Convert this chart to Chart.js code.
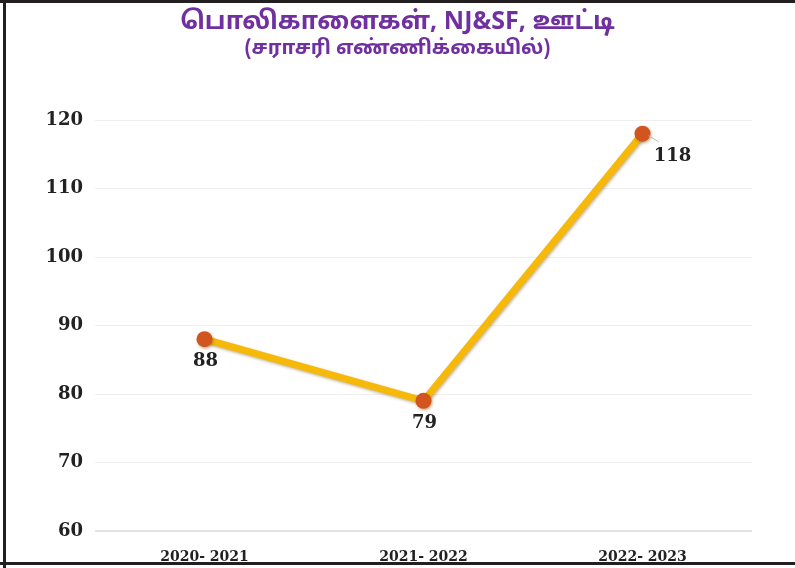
<!DOCTYPE html>
<html>
<head>
<meta charset="utf-8">
<script src="https://cdn.jsdelivr.net/npm/chart.js@4/dist/chart.umd.min.js"></script>
<style>
  html, body { margin: 0; padding: 0; background: #fff; }
  #wrap { position: relative; width: 795px; height: 568px; overflow: hidden; background: #fff; }
  canvas { position: absolute; left: 0; top: 0; }
  .b { position: absolute; background: #231f20; }
  .t { position: absolute; left: 0; width: 795px; text-align: center; color: #7030a0; font-weight: bold;
       font-family: "Noto Sans Tamil", "Lohit Tamil", "Latha", "Noto Sans", sans-serif; white-space: nowrap; }
</style>
</head>
<body>
<div id="wrap">
  <canvas id="c" width="795" height="568"></canvas>
  <div class="b" style="left:0;top:0;width:795px;height:3px;"></div>
  <div class="b" style="left:3px;top:0;width:3px;height:568px;"></div>
  <div class="b" style="left:0;top:562px;width:795px;height:3px;"></div>
  <div class="t" id="t1" style="top:7px;font-size:25px;line-height:32px;"></div>
  <div class="t" id="t2" style="top:36px;font-size:20px;line-height:26px;"></div>
</div>
<script>
const titleLine1 = "பொலிகாளைகள், NJ&SF, ஊட்டி";
const titleLine2 = "(சராசரி எண்ணிக்கையில்)";
const categories = ["2020- 2021", "2021- 2022", "2022- 2023"];
const values = [88, 79, 118];
const yTicks = [60, 70, 80, 90, 100, 110, 120];

document.getElementById('t1').textContent = titleLine1;
document.getElementById('t2').textContent = titleLine2;

const shadowPlugin = {
  id: 'lineShadow',
  beforeDatasetDraw(chart) {
    const ctx = chart.ctx;
    ctx.save();
    ctx.shadowColor = 'rgba(120,80,0,0.45)';
    ctx.shadowBlur = 3;
    ctx.shadowOffsetX = 1;
    ctx.shadowOffsetY = 1.5;
  },
  afterDatasetDraw(chart) {
    chart.ctx.restore();
  }
};

const labelPlugin = {
  id: 'valueLabels',
  afterDatasetsDraw(chart) {
    const ctx = chart.ctx;
    const meta = chart.getDatasetMeta(0);
    ctx.save();
    ctx.font = 'bold 18px "DejaVu Serif", serif';
    ctx.fillStyle = '#222';
    ctx.textAlign = 'center';
    ctx.textBaseline = 'middle';
    meta.data.forEach((pt, i) => {
      const v = values[i];
      if (i === values.length - 1) {
        ctx.strokeStyle = '#bbb';
        ctx.lineWidth = 1;
        ctx.beginPath();
        ctx.moveTo(pt.x + 6, pt.y + 2);
        ctx.lineTo(pt.x + 16, pt.y + 8);
        ctx.stroke();
        ctx.fillText(String(v), pt.x + 30, pt.y + 23);
      } else {
        ctx.fillText(String(v), pt.x + 1, pt.y + 22);
      }
    });
    ctx.restore();
  }
};

new Chart(document.getElementById('c'), {
  type: 'line',
  data: {
    labels: categories,
    datasets: [{
      data: values,
      borderColor: '#f6b90a',
      borderWidth: 7,
      pointRadius: 8,
      pointHoverRadius: 8,
      pointBackgroundColor: '#d2551f',
      pointBorderColor: '#d2551f',
      pointBorderWidth: 0,
      tension: 0,
      fill: false
    }]
  },
  options: {
    responsive: false,
    animation: false,
    devicePixelRatio: 1,
    layout: { padding: { left: 0, right: 43, top: 120, bottom: 0 } },
    plugins: { legend: { display: false }, tooltip: { enabled: false }, title: { display: false } },
    scales: {
      x: {
        offset: true,
        grid: { display: false },
        border: { display: false },
        ticks: { color: '#222', font: { family: '"DejaVu Serif", serif', weight: 'bold', size: 14 }, padding: 10, maxRotation: 0 },
        afterFit(scale) { scale.height = 37; }
      },
      y: {
        min: 60,
        max: 120,
        afterBuildTicks(scale) { scale.ticks = yTicks.map(v => ({ value: v })); },
        grid: { color: (c) => c.tick && c.tick.value === 60 ? '#e2e2e2' : '#efefef', lineWidth: (c) => c.tick && c.tick.value === 60 ? 2 : 1, drawTicks: false },
        border: { display: false },
        ticks: { color: '#222', font: { family: '"DejaVu Serif", serif', weight: 'bold', size: 18 }, padding: 12 },
        afterFit(scale) { scale.width = 95; }
      }
    }
  },
  plugins: [shadowPlugin, labelPlugin]
});
</script>
</body>
</html>
